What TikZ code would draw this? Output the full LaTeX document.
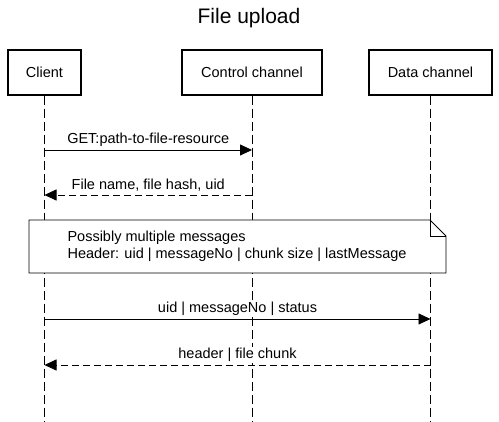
\documentclass[tikz,border=0pt]{standalone}
\usepackage{fontspec}
\setmainfont{Liberation Sans}
\usetikzlibrary{arrows.meta}
\begin{document}
\begin{tikzpicture}[x=1pt, y=-1pt, font=\fontsize{14.5}{17}\selectfont,
  actor/.style={draw, line width=1.5pt, minimum height=45pt, inner sep=0pt},
  life/.style={line width=0.8pt, dash pattern=on 9pt off 4pt},
  call/.style={line width=0.8pt, -{Triangle[length=12pt,width=11pt]}},
  reply/.style={call, dash pattern=on 7pt off 4pt},
  lbl/.style={above=2pt, fill=white, inner sep=1pt}]
\useasboundingbox (0,0) rectangle (499,422);
\node (title) at (249,18) {\fontsize{21}{24}\selectfont File upload};
\node[actor, minimum width=73pt] (client) at (44.5,72.5) {Client};
\node[actor, minimum width=140pt] (control) at (252,72.5) {Control channel};
\node[actor, minimum width=123pt] (data) at (430.5,72.5) {Data channel};
\coordinate (bottom) at (0,423);
\draw[life] (client) -- (client |- bottom);
\draw[life] (control) -- (control |- bottom);
\draw[life] (data) -- (data |- bottom);
% messages
\coordinate (m1) at (0,150); \coordinate (m2) at (0,195);
\coordinate (m3) at (0,319); \coordinate (m4) at (0,365);
\draw[call] (client |- m1) -- node[lbl]{GET:path-to-file-resource} (control |- m1);
\draw[reply] (control |- m2) -- node[lbl]{File name, file hash, uid} (client |- m2);
% note
\draw[line width=0.8pt, fill=white] (29,220) -- (430,220) -- (446,236) -- (446,273) -- (29,273) -- cycle;
\draw[line width=0.8pt] (430,220) -- (430,236) -- (446,236);
\node[anchor=west, align=left] (note) at (64,246.5) {Possibly multiple messages\\Header: uid | messageNo | chunk size | lastMessage};
\draw[call] (client |- m3) -- node[lbl]{uid | messageNo | status} (data |- m3);
\draw[reply] (data |- m4) -- node[lbl]{header | file chunk} (client |- m4);
\end{tikzpicture}
\end{document}
